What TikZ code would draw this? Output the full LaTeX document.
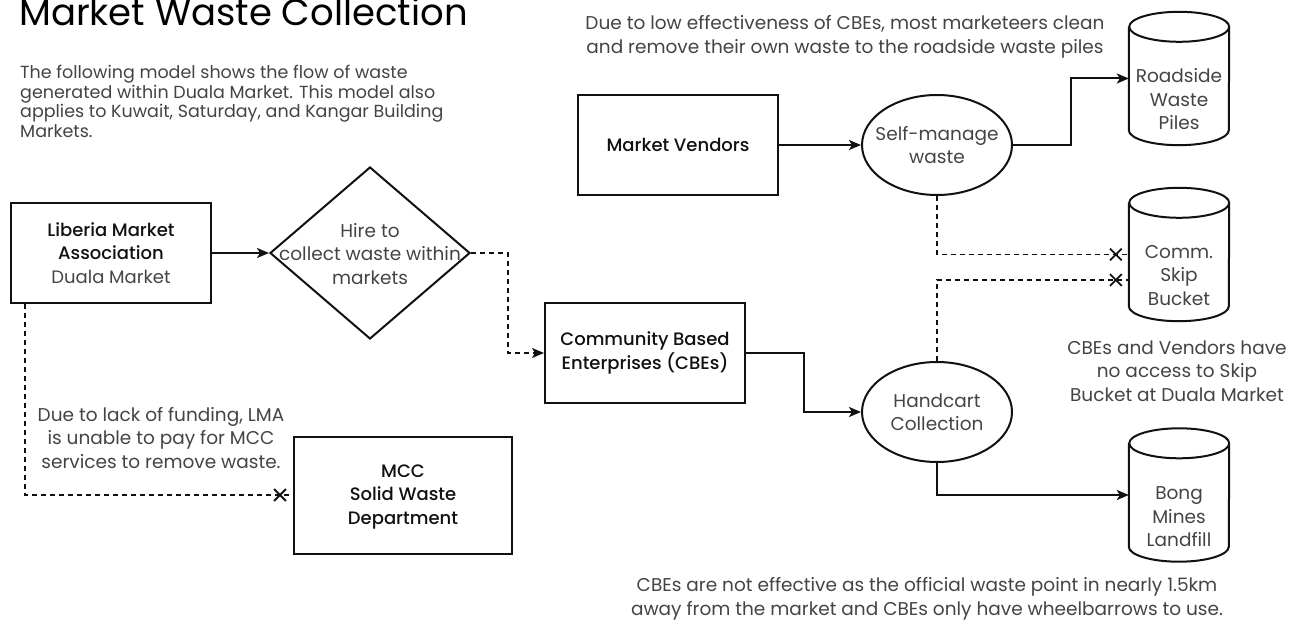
\documentclass[tikz,border=0pt]{standalone}
\usepackage{fontspec}
\setmainfont{Poppins}
\newfontfamily\medfont{Poppins Medium}
\usetikzlibrary{shapes.geometric,shapes.misc,arrows.meta}
\definecolor{txtgray}{HTML}{444444}
\definecolor{lineblk}{HTML}{111111}
\newcommand*\drum[1]{\draw[line width=2pt,lineblk] ([yshift=-15pt]#1.north west) -- ([yshift=15pt]#1.south west)
  arc[start angle=180,end angle=360,x radius=50pt,y radius=15pt] -- ([yshift=-15pt]#1.north east)
  arc[start angle=0,end angle=180,x radius=50pt,y radius=15pt]
  arc[start angle=180,end angle=360,x radius=50pt,y radius=15pt];}
\tikzset{
  txt/.style={font=\fontsize{18.5}{23.5}\selectfont,text=txtgray,align=center,inner sep=0pt},
  lbl/.style={font=\fontsize{18}{23.5}\selectfont\medfont,text=lineblk,align=center,inner sep=0pt},
  boxed/.style={draw=lineblk,line width=2pt,rectangle,minimum width=200pt,minimum height=100pt},
  oval/.style={draw=lineblk,line width=2pt,ellipse,minimum width=150pt,minimum height=100pt,inner sep=0pt},
  drumbox/.style={rectangle,minimum width=100pt,minimum height=133pt,inner sep=0pt},
  flow/.style={line width=2pt,lineblk,-{Stealth[length=12pt,width=10pt,inset=3pt]}},
  dflow/.style={line width=1.8pt,lineblk,dash pattern=on 5pt off 4pt},
  xmark/.style={cross out,draw=lineblk,line width=1.8pt,minimum size=10pt,inner sep=0pt}
}
\begin{document}
\begin{tikzpicture}[x=1pt,y=-1pt]
\useasboundingbox (0,0) rectangle (1296,628);
\fill[white] (0,0) rectangle (1296,628);
%heading
\node (title) [anchor=base west,inner sep=0pt,font=\fontsize{37}{40}\selectfont,text=black] at (19,26) {Market Waste Collection};
\node (intro) [txt,align=left,anchor=north west,font=\fontsize{17.5}{19.5}\selectfont] at (20,65)
  {The following model shows the flow of waste\\generated within Duala Market. This model also\\applies to Kuwait, Saturday, and Kangar Building\\Markets.};
%boxes
\node (lma) [boxed] at (111,253) {};
\node [lbl] at (111,253) {Liberia Market\\Association\\\normalfont\fontsize{18}{23.5}\selectfont\textcolor{txtgray}{Duala Market}};
\node (hire) [diamond,draw=lineblk,line width=2pt,minimum width=200pt,minimum height=172pt,inner sep=0pt] at (370,253) {};
\node [txt] at (370,254) {Hire to\\collect waste within\\markets};
\node (cbe) [boxed] at (645,353) {};
\node [lbl] at (645,353) {Community Based\\Enterprises (CBEs)};
\node (mcc) [boxed,minimum width=218pt,minimum height=117pt] at (403,495) {};
\node [lbl] at (403,497) {MCC\\Solid Waste\\Department};
\node (vend) [boxed] at (678,145) {};
\node [lbl] at (678,145) {Market Vendors};
%ovals
\node (self) [oval] at (937,145) {};
\node [txt] at (937,145) {Self-manage\\waste};
\node (cart) [oval] at (937,412) {};
\node [txt] at (937,412) {Handcart\\Collection};
%drums
\node (road) [drumbox] at (1179,78.5) {};
\node (comm) [drumbox] at (1179,254.5) {};
\node (bong) [drumbox] at (1179,495) {};
\drum{road}
\drum{comm}
\drum{bong}
\node [txt] at ([yshift=-21pt]road.center) {Roadside\\Waste\\Piles};
\node [txt] at ([yshift=-21pt]comm.center) {Comm.\\Skip\\Bucket};
\node [txt] at ([yshift=-22pt]bong.center) {Bong\\Mines\\Landfill};
%connectors
\draw [flow] (lma.east) -- (hire.west);
\draw [dflow,-{Stealth[length=12pt,width=10pt,inset=3pt]}] (hire.east) -- ++(37,0) |- (cbe.west);
\draw [flow] (cbe.east) -- ++(58,0) |- (cart.west);
\draw [flow] (vend.east) -- (self.west);
\draw [flow] (self.east) -- ++(58,0) |- (road.west);
\draw [flow] (cart.south) |- (bong.west);
\draw [dflow] ([xshift=15pt]lma.south west) |- (mcc.west);
\draw [dflow] (self.south) |- (comm.west);
\draw [dflow] (cart.north) |- ([yshift=-25.5pt]comm.west);
\node [xmark] at ([xshift=-13pt]mcc.west) {};
\node [xmark] at ([xshift=-13pt]comm.west) {};
\node [xmark] at ([xshift=-13pt,yshift=-25.5pt]comm.west) {};
%notes
\node [txt] at (161,438) {Due to lack of funding, LMA\\is unable to pay for MCC\\services to remove waste.};
\node [txt] at (845,37) {Due to low effectiveness of CBEs, most marketeers clean\\and remove their own waste to the roadside waste piles};
\node [txt] at (1177,371) {CBEs and Vendors have\\no access to Skip\\Bucket at Duala Market};
\node [txt] at (927,599) {CBEs are not effective as the official waste point in nearly 1.5km\\away from the market and CBEs only have wheelbarrows to use.};
\end{tikzpicture}
\end{document}
